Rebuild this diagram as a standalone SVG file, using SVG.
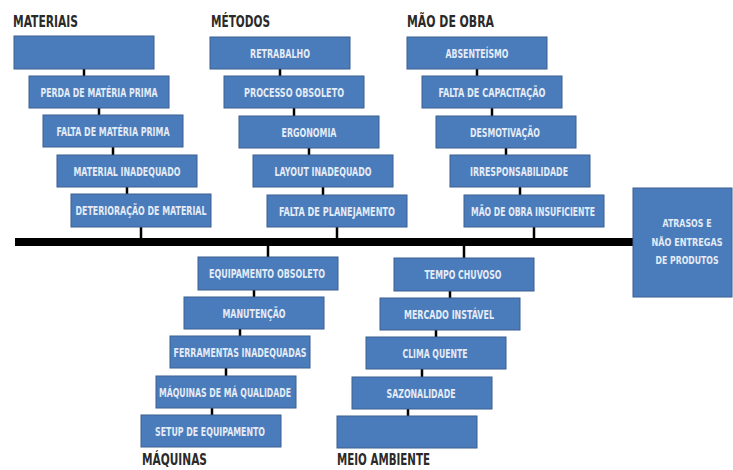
<svg xmlns="http://www.w3.org/2000/svg" width="733" height="470" viewBox="0 0 733 470">
<style>
.b{fill:#4a7cbb;stroke:#3a5f90;stroke-width:1}
.t{font-family:"Liberation Sans Narrow","DejaVu Sans Condensed","Liberation Sans",sans-serif;font-weight:bold;font-size:11.5px;fill:#e4ebf6;text-anchor:middle}
.r{font-size:10.5px}
.h{font-family:"Liberation Sans Narrow","DejaVu Sans Condensed","Liberation Sans",sans-serif;font-weight:bold;font-size:16px;fill:#2a2a2a}
.c{stroke:#000;stroke-width:2.5;fill:none}
</style>
<rect width="733" height="470" fill="#fff"/>
<g id="titles">
<text class="h" x="13" y="27" textLength="65" lengthAdjust="spacingAndGlyphs">MATERIAIS</text>
<text class="h" x="211" y="27" textLength="59" lengthAdjust="spacingAndGlyphs">MÉTODOS</text>
<text class="h" x="407" y="27" textLength="87" lengthAdjust="spacingAndGlyphs">MÃO DE OBRA</text>
<text class="h" x="142" y="465" textLength="65" lengthAdjust="spacingAndGlyphs">MÁQUINAS</text>
<text class="h" x="337" y="465" textLength="93" lengthAdjust="spacingAndGlyphs">MEIO AMBIENTE</text>
</g>
<g id="connectors">
<rect x="15" y="238" width="618" height="8" fill="#000"/>
<path class="c" d="M84 69V76M99 108V115M113 147V155M127 187V194M141 227V238"/>
<path class="c" d="M280 69V76M294 108V116M309 148V155M323 187V195M337 227V238"/>
<path class="c" d="M477 69V76M492 108V116M506 148V155M520 187V195M534 227V238"/>
<path class="c" d="M268 246V257M254 290V297M240 329V336M226 368V376M212 408V415"/>
<path class="c" d="M464 246V258M450 291V298M436 330V337M422 369V377M408 409V416"/>
</g>
<g id="materiais">
<g id="m1"><rect class="b" x="14" y="36" width="140" height="33"/></g>
<g id="m2"><rect class="b" x="29" y="76" width="140" height="32"/><text class="t" x="99" y="97" textLength="117" lengthAdjust="spacingAndGlyphs">PERDA DE MATÉRIA PRIMA</text></g>
<g id="m3"><rect class="b" x="43" y="115" width="140" height="32"/><text class="t" x="113" y="136" textLength="113" lengthAdjust="spacingAndGlyphs">FALTA DE MATÉRIA PRIMA</text></g>
<g id="m4"><rect class="b" x="57" y="155" width="140" height="32"/><text class="t" x="127" y="176" textLength="107" lengthAdjust="spacingAndGlyphs">MATERIAL INADEQUADO</text></g>
<g id="m5"><rect class="b" x="71" y="194" width="140" height="33"/><text class="t" x="141" y="215" textLength="131" lengthAdjust="spacingAndGlyphs">DETERIORAÇÃO DE MATERIAL</text></g>
</g>
<g id="metodos">
<g id="t1"><rect class="b" x="210" y="37" width="140" height="32"/><text class="t" x="280" y="58" textLength="60" lengthAdjust="spacingAndGlyphs">RETRABALHO</text></g>
<g id="t2"><rect class="b" x="224" y="76" width="140" height="32"/><text class="t" x="294" y="97" textLength="100" lengthAdjust="spacingAndGlyphs">PROCESSO OBSOLETO</text></g>
<g id="t3"><rect class="b" x="239" y="116" width="140" height="32"/><text class="t" x="309" y="137" textLength="55" lengthAdjust="spacingAndGlyphs">ERGONOMIA</text></g>
<g id="t4"><rect class="b" x="253" y="155" width="140" height="32"/><text class="t" x="323" y="176" textLength="97" lengthAdjust="spacingAndGlyphs">LAYOUT INADEQUADO</text></g>
<g id="t5"><rect class="b" x="267" y="195" width="140" height="32"/><text class="t" x="337" y="216" textLength="116" lengthAdjust="spacingAndGlyphs">FALTA DE PLANEJAMENTO</text></g>
</g>
<g id="maodeobra">
<g id="o1"><rect class="b" x="407" y="37" width="140" height="32"/><text class="t" x="477" y="58" textLength="63" lengthAdjust="spacingAndGlyphs">ABSENTEÍSMO</text></g>
<g id="o2"><rect class="b" x="422" y="76" width="140" height="32"/><text class="t" x="492" y="97" textLength="107" lengthAdjust="spacingAndGlyphs">FALTA DE CAPACITAÇÃO</text></g>
<g id="o3"><rect class="b" x="436" y="116" width="140" height="32"/><text class="t" x="505" y="137" textLength="70" lengthAdjust="spacingAndGlyphs">DESMOTIVAÇÃO</text></g>
<g id="o4"><rect class="b" x="450" y="155" width="140" height="32"/><text class="t" x="519" y="176" textLength="98" lengthAdjust="spacingAndGlyphs">IRRESPONSABILIDADE</text></g>
<g id="o5"><rect class="b" x="464" y="195" width="140" height="32"/><text class="t" x="533" y="216" textLength="124" lengthAdjust="spacingAndGlyphs">MÃO DE OBRA INSUFICIENTE</text></g>
</g>
<g id="maquinas">
<g id="q1"><rect class="b" x="198" y="257" width="140" height="33"/><text class="t" x="267" y="278" textLength="116" lengthAdjust="spacingAndGlyphs">EQUIPAMENTO OBSOLETO</text></g>
<g id="q2"><rect class="b" x="184" y="297" width="140" height="32"/><text class="t" x="254" y="318" textLength="63" lengthAdjust="spacingAndGlyphs">MANUTENÇÃO</text></g>
<g id="q3"><rect class="b" x="170" y="336" width="140" height="32"/><text class="t" x="240" y="357" textLength="133" lengthAdjust="spacingAndGlyphs">FERRAMENTAS INADEQUADAS</text></g>
<g id="q4"><rect class="b" x="156" y="376" width="140" height="32"/><text class="t" x="225" y="397" textLength="132" lengthAdjust="spacingAndGlyphs">MÁQUINAS DE MÁ QUALIDADE</text></g>
<g id="q5"><rect class="b" x="141" y="415" width="140" height="32"/><text class="t" x="210" y="436" textLength="110" lengthAdjust="spacingAndGlyphs">SETUP DE EQUIPAMENTO</text></g>
</g>
<g id="meioambiente">
<g id="a1"><rect class="b" x="394" y="258" width="140" height="33"/><text class="t" x="463" y="279" textLength="77" lengthAdjust="spacingAndGlyphs">TEMPO CHUVOSO</text></g>
<g id="a2"><rect class="b" x="380" y="298" width="140" height="32"/><text class="t" x="449" y="319" textLength="90" lengthAdjust="spacingAndGlyphs">MERCADO INSTÁVEL</text></g>
<g id="a3"><rect class="b" x="366" y="337" width="140" height="32"/><text class="t" x="435" y="358" textLength="65" lengthAdjust="spacingAndGlyphs">CLIMA QUENTE</text></g>
<g id="a4"><rect class="b" x="352" y="377" width="140" height="32"/><text class="t" x="421" y="398" textLength="69" lengthAdjust="spacingAndGlyphs">SAZONALIDADE</text></g>
<g id="a5"><rect class="b" x="337" y="416" width="140" height="32"/></g>
</g>
<g id="efeito">
<rect class="b" x="633" y="188" width="99" height="109"/>
<text class="t r" x="687" y="227" textLength="49" lengthAdjust="spacingAndGlyphs">ATRASOS E</text>
<text class="t r" x="687" y="246" textLength="71" lengthAdjust="spacingAndGlyphs">NÃO ENTREGAS</text>
<text class="t r" x="687" y="264" textLength="63" lengthAdjust="spacingAndGlyphs">DE PRODUTOS</text>
</g>
</svg>
